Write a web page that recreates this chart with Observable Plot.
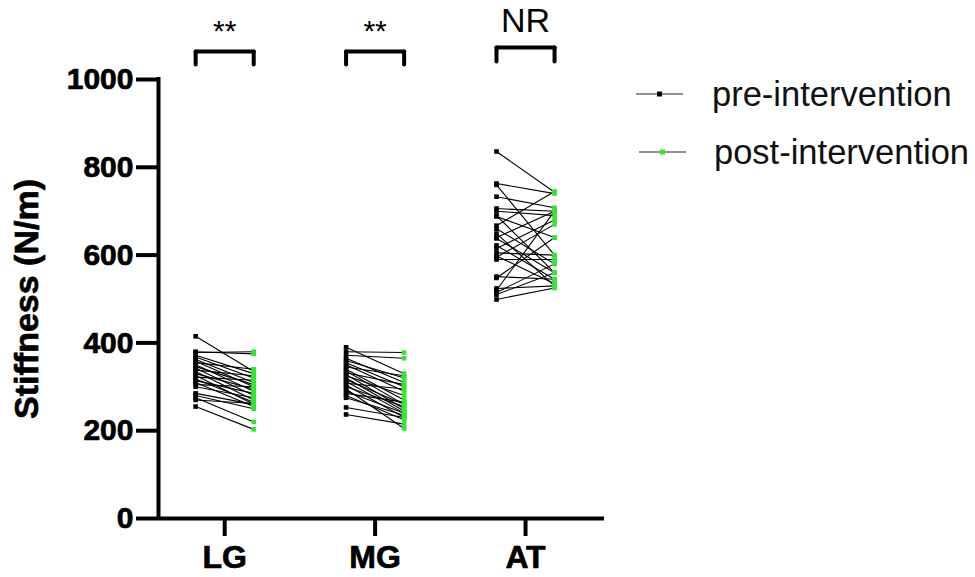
<!DOCTYPE html>
<html><head><meta charset="utf-8">
<script src="https://cdn.jsdelivr.net/npm/d3@7"></script>
<script src="https://cdn.jsdelivr.net/npm/@observablehq/plot@0.6"></script>
<style>
body{margin:0;background:#fff;font-family:"Liberation Sans",Arial,sans-serif;}
#wrap{position:relative;width:975px;height:577px;overflow:hidden;}
.leg{position:absolute;display:flex;align-items:center;font-size:34.5px;color:#111;line-height:1;}
.leg svg{display:block;}
</style></head><body><div id="wrap"></div>
<script>
const categories = ["LG", "MG", "AT"];
const signif = ["**", "**", "NR"];
const yTicks = [0, 200, 400, 600, 800, 1000];

const lgPre  = [415, 380, 378, 372, 368, 362, 358, 355, 350, 346, 342, 338, 335, 330, 326, 322, 318, 314, 310, 305, 300, 285, 280, 275, 270, 255];
const lgPost = [335, 375, 380, 330, 320, 310, 300, 340, 290, 305, 280, 325, 270, 295, 260, 315, 265, 285, 255, 300, 275, 260, 250, 220, 262, 203];

const mgPre  = [390, 380, 372, 365, 360, 355, 350, 345, 340, 336, 332, 328, 325, 320, 316, 312, 308, 304, 300, 295, 290, 285, 280, 275, 253, 237];
const mgPost = [330, 378, 365, 310, 320, 300, 290, 325, 270, 260, 305, 250, 280, 245, 260, 240, 295, 230, 255, 205, 240, 265, 225, 235, 230, 215];

const atPre  = [836, 763, 760, 733, 706, 700, 690, 688, 667, 660, 649, 640, 638, 622, 615, 605, 598, 595, 590, 551, 548, 524, 520, 515, 499, 510];
const atPost = [743, 740, 600, 708, 700, 690, 560, 640, 745, 580, 530, 700, 560, 545, 680, 600, 535, 670, 590, 545, 640, 530, 700, 580, 525, 560];

const preSeries = [lgPre, mgPre, atPre];
const postSeries = [lgPost, mgPost, atPost];

const rows = [];
categories.forEach((c, i) => {
  preSeries[i].forEach((v, j) => rows.push({cat: i, pre: v, post: postSeries[i][j]}));
});
const off = 0.193;
const brackets = categories.map((c, i) => ({cat: i, top: i === 2 ? 1073 : 1064, bottom: i === 2 ? 1041 : 1034, label: signif[i], ly: i === 2 ? 1133 : 1110}));

const font = '"Liberation Sans", Arial, sans-serif';
const xDom = [-0.44, 2.525];

const chart = Plot.plot({
  width: 975, height: 577,
  marginLeft: 158, marginRight: 371, marginTop: 79, marginBottom: 59,
  style: {fontFamily: font, background: "#fff", color: "#000", overflow: "visible"},
  x: {domain: xDom, axis: null},
  y: {domain: [0, 1000], axis: null},
  marks: [
    Plot.axisY({ticks: yTicks, tickSize: 22, tickPadding: 3, strokeWidth: 4, fontSize: 30, fontWeight: "bold", textStroke: "#000", textStrokeWidth: 0.7, tickFormat: d => String(d), label: null}),
    Plot.axisX({ticks: [0, 1, 2], tickSize: 18, tickPadding: 9, strokeWidth: 4, fontSize: 32, fontWeight: "bold", textStroke: "#000", textStrokeWidth: 0.7, tickFormat: i => categories[i], label: null}),
    Plot.ruleX([xDom[0]], {y1: 0, y2: 1000, strokeWidth: 4, stroke: "#000", strokeLinecap: "square"}),
    Plot.ruleY([0], {x1: xDom[0], x2: xDom[1], strokeWidth: 4, stroke: "#000"}),
    Plot.text(["Stiffness (N/m)"], {frameAnchor: "left", dx: -131, rotate: -90, textAnchor: "middle", fontSize: 34, fontWeight: "bold", fill: "#000", stroke: "#000", strokeWidth: 0.7}),
    Plot.link(rows, {x1: d => d.cat - off, x2: d => d.cat + off, y1: "pre", y2: "post", stroke: "#000", strokeWidth: 1.1}),
    Plot.dot(rows, {x: d => d.cat - off, y: "pre", symbol: "square", r: 2.6, fill: "#000", stroke: null}),
    Plot.dot(rows, {x: d => d.cat + off, y: "post", symbol: "square", r: 2.6, fill: "#33e633", stroke: null}),
    Plot.link(brackets, {x1: d => d.cat - off, x2: d => d.cat + off, y1: "top", y2: "top", stroke: "#000", strokeWidth: 4, strokeLinecap: "round"}),
    Plot.link(brackets, {x1: d => d.cat - off, x2: d => d.cat - off, y1: "top", y2: "bottom", stroke: "#000", strokeWidth: 4, strokeLinecap: "round"}),
    Plot.link(brackets, {x1: d => d.cat + off, x2: d => d.cat + off, y1: "top", y2: "bottom", stroke: "#000", strokeWidth: 4, strokeLinecap: "round"}),
    Plot.text(brackets, {x: "cat", y: "ly", text: "label", fontSize: d => d.label === "NR" ? 34 : 30, fontWeight: d => d.label === "NR" ? "normal" : "bold", fill: "#000"})
  ]
});
const wrap = document.getElementById("wrap");
wrap.appendChild(chart);

const legendItems = [
  {label: "pre-intervention", color: "#000", left: 636, top: 94, gap: 29},
  {label: "post-intervention", color: "#33e633", left: 639, top: 152, gap: 28}
];
legendItems.forEach(it => {
  const d = document.createElement("div");
  d.className = "leg";
  d.style.left = it.left + "px";
  d.style.top = (it.top - 20) + "px";
  d.style.height = "40px";
  d.innerHTML = `<svg width="47" height="10"><line x1="0" y1="5" x2="47" y2="5" stroke="#222" stroke-width="1.2"/><rect x="21" y="2.5" width="5" height="5" fill="${it.color}"/></svg><span style="margin-left:${it.gap}px">${it.label}</span>`;
  wrap.appendChild(d);
});
</script>
</body></html>
